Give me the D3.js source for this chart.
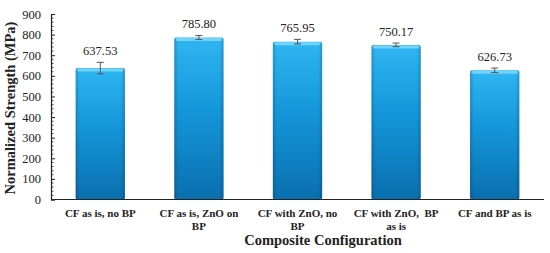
<!DOCTYPE html>
<html>
<head>
<meta charset="utf-8">
<script src="https://cdn.jsdelivr.net/npm/d3@7"></script>
<style>
html,body{margin:0;padding:0;background:#fff;}
svg{display:block;}
</style>
</head>
<body>
<script>
const categories = ["CF as is, no BP", "CF as is, ZnO on BP", "CF with ZnO, no BP", "CF with ZnO,  BP as is", "CF and BP as is"];
const values = [637.53, 785.80, 765.95, 750.17, 626.73];
const errors = [28, 10, 11, 9, 11];
const valueLabels = ["637.53", "785.80", "765.95", "750.17", "626.73"];
const yTicks = [0, 100, 200, 300, 400, 500, 600, 700, 800, 900];

const W = 550, H = 253;
const svg = d3.select("body").append("svg").attr("width", W).attr("height", H);

const x = d3.scaleBand().domain(categories).range([51, 544]).paddingInner(0.5).paddingOuter(0.25);
const y = d3.scaleLinear().domain([0, 900]).range([199.5, 14]);

const defs = svg.append("defs");
const g1 = defs.append("linearGradient").attr("id", "barGrad").attr("x1", 0).attr("y1", 0).attr("x2", 0).attr("y2", 1);
g1.append("stop").attr("offset", "0%").attr("stop-color", "#2fb6f2");
g1.append("stop").attr("offset", "45%").attr("stop-color", "#1496da");
g1.append("stop").attr("offset", "100%").attr("stop-color", "#0a6fae");
const g2 = defs.append("linearGradient").attr("id", "edgeGrad").attr("x1", 0).attr("y1", 0).attr("x2", 1).attr("y2", 0);
g2.append("stop").attr("offset", "0%").attr("stop-color", "#000").attr("stop-opacity", 0.18);
g2.append("stop").attr("offset", "8%").attr("stop-color", "#000").attr("stop-opacity", 0);
g2.append("stop").attr("offset", "92%").attr("stop-color", "#000").attr("stop-opacity", 0);
g2.append("stop").attr("offset", "100%").attr("stop-color", "#000").attr("stop-opacity", 0.18);

// bars
const bars = svg.append("g").selectAll("g").data(categories).join("g");
bars.append("rect")
  .attr("x", d => x(d)).attr("width", x.bandwidth())
  .attr("y", (d, i) => y(values[i])).attr("height", (d, i) => y(0) - y(values[i]))
  .attr("rx", 2).attr("fill", "url(#barGrad)");
bars.append("rect")
  .attr("x", d => x(d)).attr("width", x.bandwidth())
  .attr("y", (d, i) => y(values[i])).attr("height", (d, i) => y(0) - y(values[i]))
  .attr("rx", 2).attr("fill", "url(#edgeGrad)");
// top bevel highlight
bars.append("rect")
  .attr("x", d => x(d) + 1.5).attr("width", x.bandwidth() - 3)
  .attr("y", (d, i) => y(values[i]) + 0.5).attr("height", 3)
  .attr("rx", 1.5).attr("fill", "#7fd8fb").attr("opacity", 0.85);

// error bars
const eb = svg.append("g").attr("stroke", "#555").attr("stroke-width", 1);
categories.forEach((c, i) => {
  const cx = x(c) + x.bandwidth() / 2;
  const hi = y(values[i] + errors[i]), lo = y(values[i] - errors[i]);
  eb.append("line").attr("x1", cx).attr("x2", cx).attr("y1", hi).attr("y2", lo);
  eb.append("line").attr("x1", cx - 3.5).attr("x2", cx + 3.5).attr("y1", hi).attr("y2", hi);
  eb.append("line").attr("x1", cx - 3.5).attr("x2", cx + 3.5).attr("y1", lo).attr("y2", lo);
});

// value labels
svg.append("g").selectAll("text").data(categories).join("text")
  .attr("x", d => x(d) + x.bandwidth() / 2)
  .attr("y", (d, i) => y(values[i] + errors[i]) - 7)
  .attr("text-anchor", "middle")
  .attr("font-family", "Liberation Serif, Times New Roman, serif")
  .attr("font-size", 12.5).attr("fill", "#222")
  .text((d, i) => valueLabels[i]);

// y axis
const yAxis = d3.axisLeft(y).tickValues(yTicks).tickSize(-4).tickPadding(10).tickFormat(d3.format("d"));
const ya = svg.append("g").attr("transform", "translate(51,0)").call(yAxis);
ya.select(".domain").attr("stroke", "#222").attr("stroke-width", 1.2);
ya.selectAll(".tick line").attr("stroke", "#222");
ya.selectAll("text").attr("font-family", "Liberation Serif, Times New Roman, serif").attr("font-size", 12.5).attr("fill", "#222");
const minor = d3.range(0, 901, 20).filter(v => v % 100 !== 0);
svg.append("g").selectAll("line").data(minor).join("line")
  .attr("x1", 51).attr("x2", 53.5).attr("y1", d => y(d)).attr("y2", d => y(d))
  .attr("stroke", "#222").attr("stroke-width", 0.8);

// x axis
svg.append("line").attr("x1", 51).attr("x2", 544).attr("y1", y(0)).attr("y2", y(0)).attr("stroke", "#222").attr("stroke-width", 1.2);

// category labels (wrapped)
const xl = svg.append("g").selectAll("text").data(categories).join("text")
  .attr("x", d => x(d) + x.bandwidth() / 2).attr("y", 217)
  .attr("text-anchor", "middle")
  .attr("font-family", "Liberation Serif, Times New Roman, serif")
  .attr("font-size", 11).attr("font-weight", "bold").attr("fill", "#222");
xl.each(function (d) {
  const t = d3.select(this);
  const words = d.split(" ");
  let line = [], lineNo = 0;
  let ts = t.append("tspan").attr("x", t.attr("x")).attr("dy", 0);
  words.forEach(w => {
    line.push(w);
    ts.text(line.join(" "));
    if (ts.node().getComputedTextLength() > 90 && line.length > 1) {
      line.pop();
      ts.text(line.join(" "));
      line = [w];
      lineNo++;
      ts = t.append("tspan").attr("x", t.attr("x")).attr("dy", 13).text(w);
    }
  });
  t.selectAll("tspan").style("white-space", "pre");
});

// axis titles
svg.append("text").attr("x", 323).attr("y", 245).attr("text-anchor", "middle")
  .attr("font-family", "Liberation Serif, Times New Roman, serif")
  .attr("font-size", 14.5).attr("font-weight", "bold").attr("fill", "#222")
  .text("Composite Configuration");
svg.append("text").attr("transform", "translate(15,108) rotate(-90)").attr("text-anchor", "middle")
  .attr("font-family", "Liberation Serif, Times New Roman, serif")
  .attr("font-size", 14.5).attr("font-weight", "bold").attr("fill", "#222")
  .text("Normalized Strength (MPa)");
</script>
</body>
</html>
